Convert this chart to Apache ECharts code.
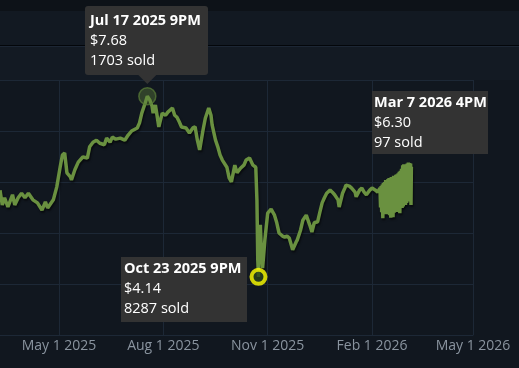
<!DOCTYPE html>
<html><head><meta charset="utf-8">
<script src="https://cdn.jsdelivr.net/npm/echarts@6/dist/echarts.min.js"></script>
<style>html,body{margin:0;padding:0;background:#11171f;}#c{width:519px;height:368px;}</style>
</head><body><div id="c"></div>
<script>
// Daily-ish median sale prices
const priceHistory = [
['2025-03-10',5.84],['2025-03-12',5.55],['2025-03-14',5.69],['2025-03-17',5.51],['2025-03-21',5.75],['2025-03-23',5.55],
['2025-03-26',5.69],['2025-03-29',5.78],['2025-04-01',5.69],['2025-04-04',5.78],['2025-04-08',5.65],['2025-04-12',5.59],
['2025-04-16',5.45],['2025-04-19',5.61],['2025-04-21',5.49],['2025-04-26',5.65],['2025-04-29',5.90],['2025-05-02',6.29],
['2025-05-04',6.53],['2025-05-06',6.57],['2025-05-08',6.18],['2025-05-11',6.10],['2025-05-12',6.04],['2025-05-15',6.24],
['2025-05-18',6.39],['2025-05-22',6.49],['2025-05-26',6.47],['2025-05-28',6.69],['2025-05-31',6.78],['2025-06-03',6.82],
['2025-06-06',6.76],['2025-06-10',6.73],['2025-06-12',6.86],['2025-06-15',6.78],['2025-06-17',6.88],['2025-06-20',6.84],
['2025-06-24',6.86],['2025-06-28',6.82],['2025-07-01',6.92],['2025-07-04',7.00],['2025-07-09',7.06],['2025-07-11',7.16],
['2025-07-13',7.35],['2025-07-16',7.55],['2025-07-17 21:00',7.68],['2025-07-20',7.61],['2025-07-22',7.49],['2025-07-23',7.35],
['2025-07-25',7.51],['2025-07-26',7.37],['2025-07-28',7.08],['2025-07-31',7.35],['2025-08-03',7.31],['2025-08-05',7.37],
['2025-08-09',7.45],['2025-08-11',7.31],['2025-08-13',7.27],['2025-08-15',7.18],['2025-08-17',7.08],['2025-08-21',7.06],
['2025-08-24',6.96],['2025-08-27',7.06],['2025-08-29',7.08],['2025-08-31',6.82],['2025-09-02',6.63],['2025-09-05',7.02],
['2025-09-07',7.25],['2025-09-10',7.45],['2025-09-12',7.31],['2025-09-13',7.12],['2025-09-16',6.82],['2025-09-18',6.69],
['2025-09-20',6.53],['2025-09-22',6.43],['2025-09-26',6.29],['2025-09-28',6.08],['2025-09-30',6.00],['2025-10-03',6.33],
['2025-10-05',6.18],['2025-10-08',6.27],['2025-10-11',6.33],['2025-10-13',6.43],['2025-10-16',6.47],['2025-10-19',6.33],
['2025-10-21 12:00',6.29],['2025-10-22 12:00',5.65],['2025-10-23 06:00',4.47],['2025-10-23 21:00',4.14],['2025-10-24 18:00',5.06],
['2025-10-25 12:00',5.16],['2025-10-26 12:00',4.61],['2025-10-27 12:00',4.31],['2025-10-29 12:00',4.86],['2025-11-01',5.39],
['2025-11-04',5.47],['2025-11-07',5.35],['2025-11-09',5.20],['2025-11-11',5.00],['2025-11-14',4.94],['2025-11-16',4.92],
['2025-11-18',4.94],['2025-11-20',4.90],['2025-11-23',4.67],['2025-11-26',4.82],['2025-11-27',4.86],['2025-11-30',5.06],
['2025-12-02',5.25],['2025-12-05',5.35],['2025-12-08',5.16],['2025-12-10',5.02],['2025-12-12',5.20],['2025-12-15',5.22],
['2025-12-17',5.41],['2025-12-19',5.59],['2025-12-21',5.69],['2025-12-23',5.78],['2025-12-26',5.84],['2025-12-28',5.80],
['2025-12-30',5.75],['2026-01-02',5.65],['2026-01-03',5.51],['2026-01-06',5.78],['2026-01-08',5.88],['2026-01-09',5.94],
['2026-01-12',5.92],['2026-01-14',5.88],['2026-01-17',5.80],['2026-01-18',5.71],['2026-01-21',5.84],['2026-01-23',5.88],
['2026-01-25',5.80],['2026-01-27',5.75],['2026-01-30',5.84],['2026-02-01',5.88],['2026-02-04',5.84],['2026-02-06',5.80]
];
// Recent month: finer-grained sales, oscillating
const recentHourly = [
['2026-02-08 00:00',5.88],['2026-02-08 12:00',5.50],['2026-02-09 00:00',5.92],['2026-02-09 12:00',5.41],
['2026-02-10 00:00',5.95],['2026-02-10 12:00',5.29],['2026-02-11 00:00',5.98],['2026-02-11 12:00',5.60],
['2026-02-12 00:00',6.00],['2026-02-12 12:00',5.37],['2026-02-13 00:00',6.04],['2026-02-13 12:00',5.45],
['2026-02-14 00:00',6.02],['2026-02-14 12:00',5.37],['2026-02-15 00:00',6.06],['2026-02-15 12:00',5.55],
['2026-02-16 00:00',6.08],['2026-02-16 12:00',5.35],['2026-02-17 00:00',6.07],['2026-02-17 12:00',5.30],
['2026-02-18 00:00',6.10],['2026-02-18 12:00',5.50],['2026-02-19 00:00',6.09],['2026-02-19 12:00',5.31],
['2026-02-20 00:00',6.12],['2026-02-20 12:00',5.40],['2026-02-21 00:00',6.12],['2026-02-21 12:00',5.45],
['2026-02-22 00:00',6.14],['2026-02-22 12:00',5.60],['2026-02-23 00:00',6.15],['2026-02-23 12:00',5.41],
['2026-02-24 00:00',6.17],['2026-02-24 12:00',5.55],['2026-02-25 00:00',6.20],['2026-02-25 12:00',5.39],
['2026-02-26 00:00',6.22],['2026-02-26 12:00',5.60],['2026-02-27 00:00',6.26],['2026-02-27 12:00',5.49],
['2026-02-28 00:00',6.33],['2026-02-28 12:00',5.52],['2026-03-01 00:00',6.35],['2026-03-01 12:00',5.60],
['2026-03-02 00:00',6.33],['2026-03-02 12:00',5.55],['2026-03-03 00:00',6.34],['2026-03-03 12:00',5.59],
['2026-03-04 00:00',6.36],['2026-03-04 12:00',5.62],['2026-03-05 00:00',6.38],['2026-03-05 12:00',5.65],
['2026-03-06 00:00',6.37],['2026-03-06 12:00',5.69],['2026-03-07 00:00',6.36],['2026-03-07 08:00',5.55],
['2026-03-07 16:00',6.30]
];
const tickDates = ['2025-05-01','2025-08-01','2025-11-01','2026-02-01','2026-05-01'];
const monthNames = ['Jan','Feb','Mar','Apr','May','Jun','Jul','Aug','Sep','Oct','Nov','Dec'];
const yMin = 3, yMax = 8, yStep = 1;
// Highlighted points (tooltips)
const hlDates = ['2025-07-17 21:00','2026-03-07 16:00','2025-10-23 21:00'];
const hlPrices = [7.68, 6.30, 4.14];
const hlSold = [1703, 97, 8287];
const hlTitles = ['Jul 17 2025 9PM','Mar 7 2026 4PM','Oct 23 2025 9PM'];

const parse = echarts.number.parseDate;
const ts = d => parse(d).getTime();
const tickTs = tickDates.map(ts);
// left edge of plot lies before first tick (view panned)
const pxPerMs = 414 / (tickTs[4] - tickTs[0]);
const xMin = tickTs[0] - 59 / pxPerMs;
const xMax = tickTs[4];

const chart = echarts.init(document.getElementById('c'));
const gridColor = '#1d2836';
const FONT = '"Open Sans", "Noto Sans", sans-serif';
const lineData = priceHistory.concat(recentHourly).map(d => [ts(d[0]), d[1]]);
chart.setOption({
  backgroundColor: '#11171f',
  animation: false,
  grid: {left: 0, right: 46, top: 80, bottom: 33, show: false},
  xAxis: {
    type: 'value', min: xMin, max: xMax,
    axisLine: {show: true, lineStyle: {color: gridColor}},
    axisTick: {show: false, customValues: tickTs},
    splitLine: {show: true, lineStyle: {color: gridColor, width: 1}},
    axisLabel: {
      customValues: tickTs, color: '#8a949f', fontSize: 14, fontFamily: FONT, margin: 4,
      hideOverlap: false,
      formatter: v => { const d = new Date(v); return monthNames[d.getMonth()] + ' ' + d.getDate() + ' ' + d.getFullYear(); }
    }
  },
  yAxis: {
    type: 'value', min: yMin, max: yMax, interval: yStep,
    axisLine: {show: false}, axisTick: {show: false}, axisLabel: {show: false},
    splitLine: {show: true, lineStyle: {color: gridColor, width: 1}}
  },
  series: [
    {
      type: 'line', data: lineData, showSymbol: false, symbol: 'none',
      lineStyle: {color: '#6a9140', width: 3.5, shadowColor: 'rgba(0,0,0,0.55)', shadowBlur: 2, shadowOffsetY: 2, shadowOffsetX: 1},
      z: 3
    },
    {
      type: 'scatter', data: [[ts(hlDates[0]), hlPrices[0]]], symbolSize: 17,
      itemStyle: {color: 'rgba(95,130,60,0.5)', borderColor: 'rgba(90,125,55,0.9)', borderWidth: 1.5}, z: 4
    },
    {
      type: 'scatter', data: [[ts(hlDates[2]), hlPrices[2]]], symbolSize: 14,
      itemStyle: {color: '#2a431b', borderColor: '#ffff00', borderWidth: 4}, z: 5
    }
  ]
});

function pt(i) { return chart.convertToPixel({gridIndex: 0}, [ts(hlDates[i]), hlPrices[i]]); }
const boxStyle = [
  {dx: -62, dy: -90, w: 123, h: 69, r: 3, pad: 5, first: 15, arrow: true},
  {dx: -39, dy: -76, w: 116, h: 63, r: 0, pad: 2, first: 12, arrow: false},
  {dx: -137, dy: -20, w: 126, h: 65, r: 0, pad: 3, first: 12, arrow: false}
];
const graphics = [
  {type: 'rect', shape: {x: 0, y: 0, width: 519, height: 11}, style: {fill: '#0d1218'}, z: 0, silent: true},
  {type: 'rect', shape: {x: 0, y: 11, width: 519, height: 34}, style: {fill: '#121922'}, z: 0, silent: true},
  {type: 'rect', shape: {x: 0, y: 45, width: 519, height: 1}, style: {fill: '#03060a'}, z: 0, silent: true},
  {type: 'rect', shape: {x: 0, y: 46, width: 519, height: 1}, style: {fill: '#1c2634'}, z: 0, silent: true},
  {type: 'rect', shape: {x: 0, y: 47, width: 519, height: 33}, style: {fill: '#131a23'}, z: 0, silent: true}
];
for (let i = 0; i < 3; i++) {
  const p = pt(i), b = boxStyle[i];
  const L = Math.round(p[0] + b.dx), T = Math.round(p[1] + b.dy);
  graphics.push({type: 'rect', shape: {x: L, y: T, width: b.w, height: b.h, r: b.r}, style: {fill: '#333333'}, z: 100});
  if (b.arrow) {
    graphics.push({type: 'polygon', shape: {points: [[p[0]-9, T + b.h], [p[0]+9, T + b.h], [p[0], T + b.h + 9]]}, style: {fill: '#333333'}, z: 100});
  }
  const lines = [hlTitles[i], '$' + hlPrices[i].toFixed(2), hlSold[i] + ' sold'];
  lines.forEach((s, k) => {
    graphics.push({type: 'text', x: L + b.pad, y: T + b.first + k * 20, z: 101,
      style: {text: s, fill: '#ffffff', font: (k === 0 ? 'bold 14.5px ' : '14.5px ') + FONT, verticalAlign: 'middle', align: 'left'}});
  });
}
chart.setOption({graphic: graphics});
</script></body></html>
